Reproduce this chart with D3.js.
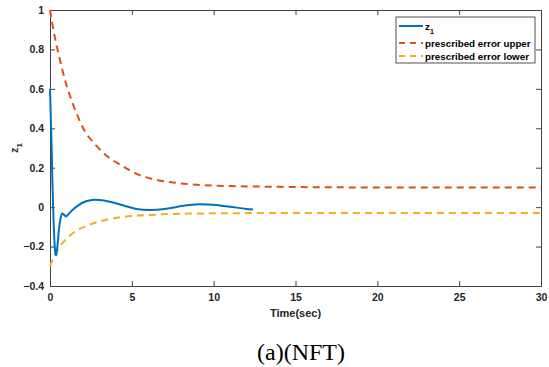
<!DOCTYPE html>
<html lang="en">
<head>
<meta charset="UTF-8">
<title>z1 prescribed error</title>
<script src="https://cdn.jsdelivr.net/npm/d3@7"></script>
<style>
    body { margin: 0; background: #fff; }
    text { font-family: "Liberation Sans", Arial, sans-serif; }
    .tick text { font-weight: bold; font-size: 10.5px; fill: #262626; }
    .axis path, .axis line { stroke: #404040; }
    .legend text { font-weight: bold; font-size: 9.8px; fill: #000; }
    .caption { font-family: "Liberation Serif", "Times New Roman", serif; }
</style>
</head>
<body>
<div id="chart"></div>
<script>
    const width = 549, height = 367;
    const margin = {left: 50, right: 8, top: 10, bottom: 81};

    // z1 response
    const z1T = [0, 0.05, 0.1, 0.15, 0.2, 0.27, 0.33, 0.38, 0.45, 0.55, 0.65, 0.75, 0.85, 0.97, 1.1, 1.3, 1.7, 2.2, 2.75, 3.3, 3.8, 4.5, 5.2, 6.1, 7, 7.8, 8.5, 9.2, 10, 11, 12, 12.4];
    const z1V = [0.6, 0.45, 0.3, 0.12, -0.02, -0.17, -0.235, -0.245, -0.2, -0.11, -0.055, -0.032, -0.038, -0.047, -0.038, -0.02, 0.008, 0.03, 0.038, 0.034, 0.025, 0.008, -0.008, -0.015, -0.01, 0.002, 0.011, 0.015, 0.012, 0.002, -0.009, -0.012];

    // prescribed error bounds
    const boundT = [0, 0.3, 0.6, 0.9, 1.2, 1.6, 2.1, 2.8, 3.5, 4.4, 5.4, 6.4, 7.8, 9.2, 11, 13, 15, 20, 25, 30];
    const upperV = [1, 0.86, 0.75, 0.65, 0.57, 0.48, 0.39, 0.315, 0.258, 0.21, 0.165, 0.14, 0.122, 0.112, 0.107, 0.104, 0.102, 0.1, 0.1, 0.1];
    const lowerV = [-0.3, -0.24, -0.2, -0.17, -0.145, -0.12, -0.1, -0.078, -0.063, -0.05, -0.043, -0.038, -0.034, -0.032, -0.031, -0.03, -0.03, -0.03, -0.03, -0.03];

    const xTicks = [0, 5, 10, 15, 20, 25, 30];
    const yTicks = [-0.4, -0.2, 0, 0.2, 0.4, 0.6, 0.8, 1];

    const colors = {z1: "#0072BD", upper: "#D95319", lower: "#EDB120"};

    const svg = d3.select("#chart").append("svg").attr("width", width).attr("height", height);

    const x = d3.scaleLinear().domain([0, 30]).range([margin.left, width - margin.right]);
    const y = d3.scaleLinear().domain([-0.4, 1]).range([height - margin.bottom, margin.top]);

    const fmt = d => d3.format("")(+d.toFixed(1));

    // axes, box style
    svg.append("g").attr("class", "axis")
        .attr("transform", `translate(0,${y(-0.4)})`)
        .call(d3.axisBottom(x).tickValues(xTicks).tickSize(-5).tickPadding(8).tickFormat(fmt));
    svg.append("g").attr("class", "axis")
        .attr("transform", `translate(0,${y(1)})`)
        .call(d3.axisTop(x).tickValues(xTicks).tickSize(-5).tickFormat(""));
    svg.append("g").attr("class", "axis")
        .attr("transform", `translate(${x(0)},0)`)
        .call(d3.axisLeft(y).tickValues(yTicks).tickSize(-5).tickPadding(6).tickFormat(fmt));
    svg.append("g").attr("class", "axis")
        .attr("transform", `translate(${x(30)},0)`)
        .call(d3.axisRight(y).tickValues(yTicks).tickSize(-5).tickFormat(""));

    const line = d3.line().x(d => x(d[0])).y(d => y(d[1])).curve(d3.curveMonotoneX);

    svg.append("path").datum(d3.zip(boundT, upperV))
        .attr("d", line).attr("fill", "none").attr("stroke", colors.upper)
        .attr("stroke-width", 2).attr("stroke-dasharray", "7,5");
    svg.append("path").datum(d3.zip(boundT, lowerV))
        .attr("d", line).attr("fill", "none").attr("stroke", colors.lower)
        .attr("stroke-width", 2).attr("stroke-dasharray", "7,5");
    svg.append("path").datum(d3.zip(z1T, z1V))
        .attr("d", line).attr("fill", "none").attr("stroke", colors.z1)
        .attr("stroke-width", 2);

    // labels
    svg.append("text").attr("x", (x(0) + x(30)) / 2).attr("y", 317)
        .attr("text-anchor", "middle").attr("font-weight", "bold").attr("font-size", "11px")
        .attr("fill", "#262626").text("Time(sec)");
    const yl = svg.append("text").attr("transform", `translate(18,148) rotate(-90)`)
        .attr("text-anchor", "middle").attr("font-weight", "bold").attr("font-size", "11px")
        .attr("fill", "#262626");
    yl.append("tspan").text("z");
    yl.append("tspan").attr("dy", 4).attr("font-size", "8px").text("1");

    svg.append("text").attr("class", "caption").attr("x", 301).attr("y", 360)
        .attr("text-anchor", "middle")
        .attr("font-size", "24px").attr("fill", "#000").text("(a)(NFT)");

    // legend
    const legend = svg.append("g").attr("class", "legend");
    legend.append("rect").attr("x", 396).attr("y", 17).attr("width", 139).attr("height", 46)
        .attr("fill", "#fff").attr("stroke", "#262626").attr("stroke-width", 0.8);
    const items = [
        {name: "z", sub: "1", color: colors.z1, dash: null, yy: 26},
        {name: "prescribed error upper", color: colors.upper, dash: "6,5", yy: 43},
        {name: "prescribed error lower", color: colors.lower, dash: "6,5", yy: 56}
    ];
    items.forEach(it => {
        legend.append("line").attr("x1", 399).attr("x2", 423).attr("y1", it.yy).attr("y2", it.yy)
            .attr("stroke", it.color).attr("stroke-width", 2).attr("stroke-dasharray", it.dash);
        const t = legend.append("text").attr("x", 425).attr("y", it.yy + 3.5);
        t.append("tspan").text(it.name);
        if (it.sub) t.append("tspan").attr("dy", 4).attr("font-size", "7px").text(it.sub);
    });
</script>
</body>
</html>
